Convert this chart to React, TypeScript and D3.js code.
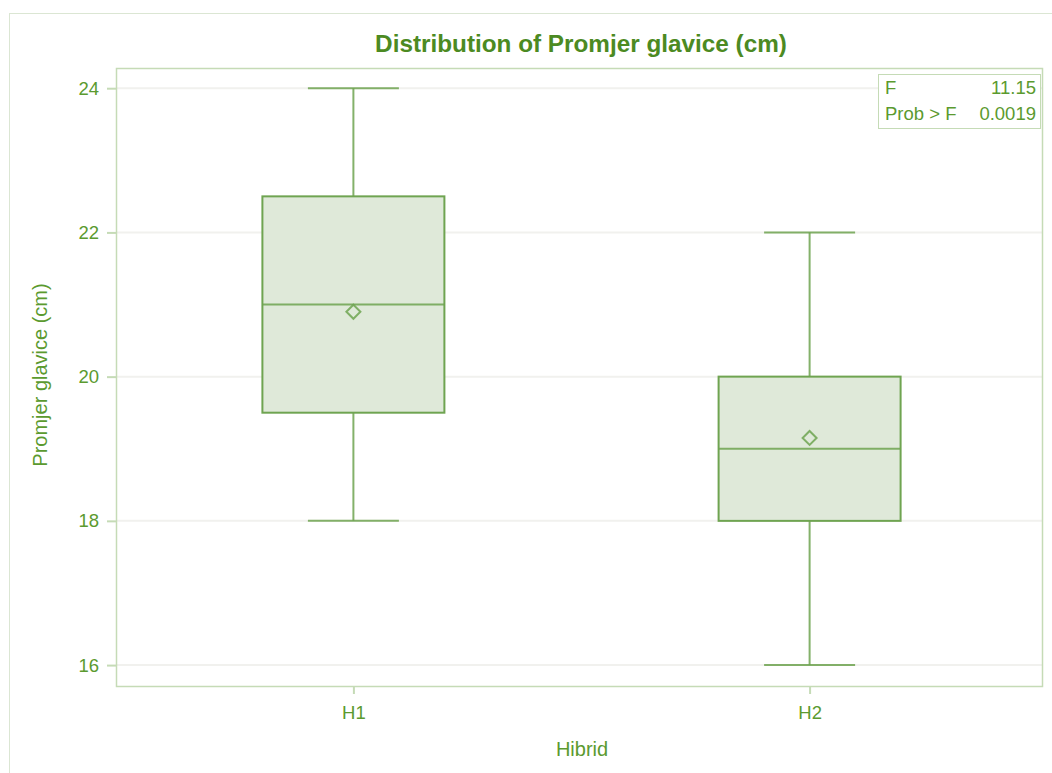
import { useEffect, useRef } from "react";
import * as d3 from "d3";

const categories = ["H1", "H2"];
const minVals = [18, 16];
const q1Vals = [19.5, 18];
const medianVals = [21, 19];
const meanVals = [20.9, 19.15];
const q3Vals = [22.5, 20];
const maxVals = [24, 22];
const yTicks = [16, 18, 20, 22, 24];
const statLabels = ["F", "Prob > F"];
const statValues = ["11.15", "0.0019"];

export default function App() {
  const ref = useRef<SVGSVGElement>(null);

  useEffect(() => {
    if (!ref.current) return;
    const svg = d3.select(ref.current);
    svg.selectAll("*").remove();

    const width = 1052;
    const height = 773;
    const margin = { top: 68, right: 9, bottom: 87, left: 116 };
    const font = "'Liberation Sans', Arial, sans-serif";
    const textColor = "#5b9a2f";
    const boxStroke = "#6fa451";
    const boxFill = "#dfe9d9";
    const axisColor = "#c5dbb6";

    // outer frame
    svg.append("rect")
      .attr("x", 9.5).attr("y", 13.5)
      .attr("width", width + 10).attr("height", height)
      .attr("fill", "none").attr("stroke", "#dbe6d3");

    const y = d3.scaleLinear()
      .domain([15.71, 24.28])
      .range([height - margin.bottom, margin.top]);

    // slightly shifted so the boxes sit where SAS put them
    const x = d3.scalePoint<string>()
      .domain(categories)
      .range([margin.left + 2, width - margin.right + 2])
      .padding(0.516);

    const boxW = 182;

    // grid lines
    svg.append("g").selectAll("line")
      .data(yTicks)
      .enter().append("line")
      .attr("x1", margin.left).attr("x2", width - margin.right)
      .attr("y1", d => y(d)).attr("y2", d => y(d))
      .attr("stroke", "#f1f1ee").attr("stroke-width", 2);

    // Title
    svg.append("text")
      .attr("x", 581).attr("y", 52)
      .attr("text-anchor", "middle")
      .attr("font-family", font).attr("font-weight", "bold").attr("font-size", 24.3)
      .attr("fill", "#4c8a22")
      .text("Distribution of Promjer glavice (cm)");

    // Y axis
    const yAxis = d3.axisLeft(y).tickValues(yTicks).tickSize(9).tickPadding(8).tickFormat(d3.format("d"));
    const yg = svg.append("g").attr("transform", `translate(${margin.left},0)`).call(yAxis);
    yg.select(".domain").remove();
    yg.selectAll("line").attr("stroke", axisColor).attr("stroke-width", 2);
    yg.selectAll("text").attr("fill", textColor).attr("font-family", font).attr("font-size", 18.5);

    // X axis
    const xAxis = d3.axisBottom(x).tickSize(8).tickPadding(12);
    const xg = svg.append("g").attr("transform", `translate(0,${height - margin.bottom})`).call(xAxis);
    xg.select(".domain").remove();
    xg.selectAll("line").attr("stroke", axisColor).attr("stroke-width", 2);
    xg.selectAll("text").attr("fill", textColor).attr("font-family", font).attr("font-size", 18.5);

    // plot frame
    svg.append("rect")
      .attr("x", margin.left + 0.5).attr("y", margin.top + 0.5)
      .attr("width", width - margin.right - margin.left - 1)
      .attr("height", height - margin.bottom - margin.top)
      .attr("fill", "none").attr("stroke", axisColor).attr("stroke-width", 1.5);

    // axis labels
    svg.append("text")
      .attr("x", 582).attr("y", 756)
      .attr("text-anchor", "middle")
      .attr("font-family", font).attr("font-size", 20).attr("fill", textColor)
      .text("Hibrid");
    svg.append("text")
      .attr("transform", `translate(47,${375}) rotate(-90)`)
      .attr("text-anchor", "middle")
      .attr("font-family", font).attr("font-size", 20).attr("fill", textColor)
      .text("Promjer glavice (cm)");

    // boxes
    const g = svg.append("g");
    categories.forEach((c, i) => {
      const cx = x(c)!;
      // whiskers
      g.append("line").attr("x1", cx).attr("x2", cx)
        .attr("y1", y(maxVals[i])).attr("y2", y(q3Vals[i]))
        .attr("stroke", boxStroke).attr("stroke-width", 2).attr("opacity", 0.85);
      g.append("line").attr("x1", cx).attr("x2", cx)
        .attr("y1", y(q1Vals[i])).attr("y2", y(minVals[i]))
        .attr("stroke", boxStroke).attr("stroke-width", 2).attr("opacity", 0.85);
      [maxVals[i], minVals[i]].forEach(v => {
        g.append("line").attr("x1", cx - boxW / 4).attr("x2", cx + boxW / 4)
          .attr("y1", y(v)).attr("y2", y(v))
          .attr("stroke", boxStroke).attr("stroke-width", 2).attr("opacity", 0.85);
      });
      g.append("rect")
        .attr("x", cx - boxW / 2).attr("y", y(q3Vals[i]))
        .attr("width", boxW).attr("height", y(q1Vals[i]) - y(q3Vals[i]))
        .attr("fill", boxFill).attr("stroke", boxStroke).attr("stroke-width", 2);
      g.append("line").attr("x1", cx - boxW / 2).attr("x2", cx + boxW / 2)
        .attr("y1", y(medianVals[i])).attr("y2", y(medianVals[i]))
        .attr("stroke", boxStroke).attr("stroke-width", 2).attr("opacity", 0.85);
      const my = y(meanVals[i]);
      const r = 7;
      g.append("path")
        .attr("d", `M${cx},${my - r}L${cx + r},${my}L${cx},${my + r}L${cx - r},${my}Z`)
        .attr("fill", "none").attr("stroke", boxStroke).attr("stroke-width", 2).attr("opacity", 0.85);
    });

    // stats inset
    const ix = 878, iy = 74, iw = 162, ih = 54;
    svg.append("rect")
      .attr("x", ix + 0.5).attr("y", iy + 0.5).attr("width", iw).attr("height", ih)
      .attr("fill", "white").attr("stroke", axisColor);
    statLabels.forEach((l, i) => {
      svg.append("text").attr("x", ix + 7).attr("y", iy + 20 + i * 26)
        .attr("font-family", font).attr("font-size", 18.5).attr("fill", textColor).text(l);
      svg.append("text").attr("x", ix + iw - 4).attr("y", iy + 20 + i * 26)
        .attr("text-anchor", "end")
        .attr("font-family", font).attr("font-size", 18.5).attr("fill", textColor).text(statValues[i]);
    });
  }, []);

  return (
    <div style={{ position: "absolute", left: 0, top: 0, width: 1052, height: 773, background: "white" }}>
      <svg ref={ref} width={1052} height={773} />
    </div>
  );
}
